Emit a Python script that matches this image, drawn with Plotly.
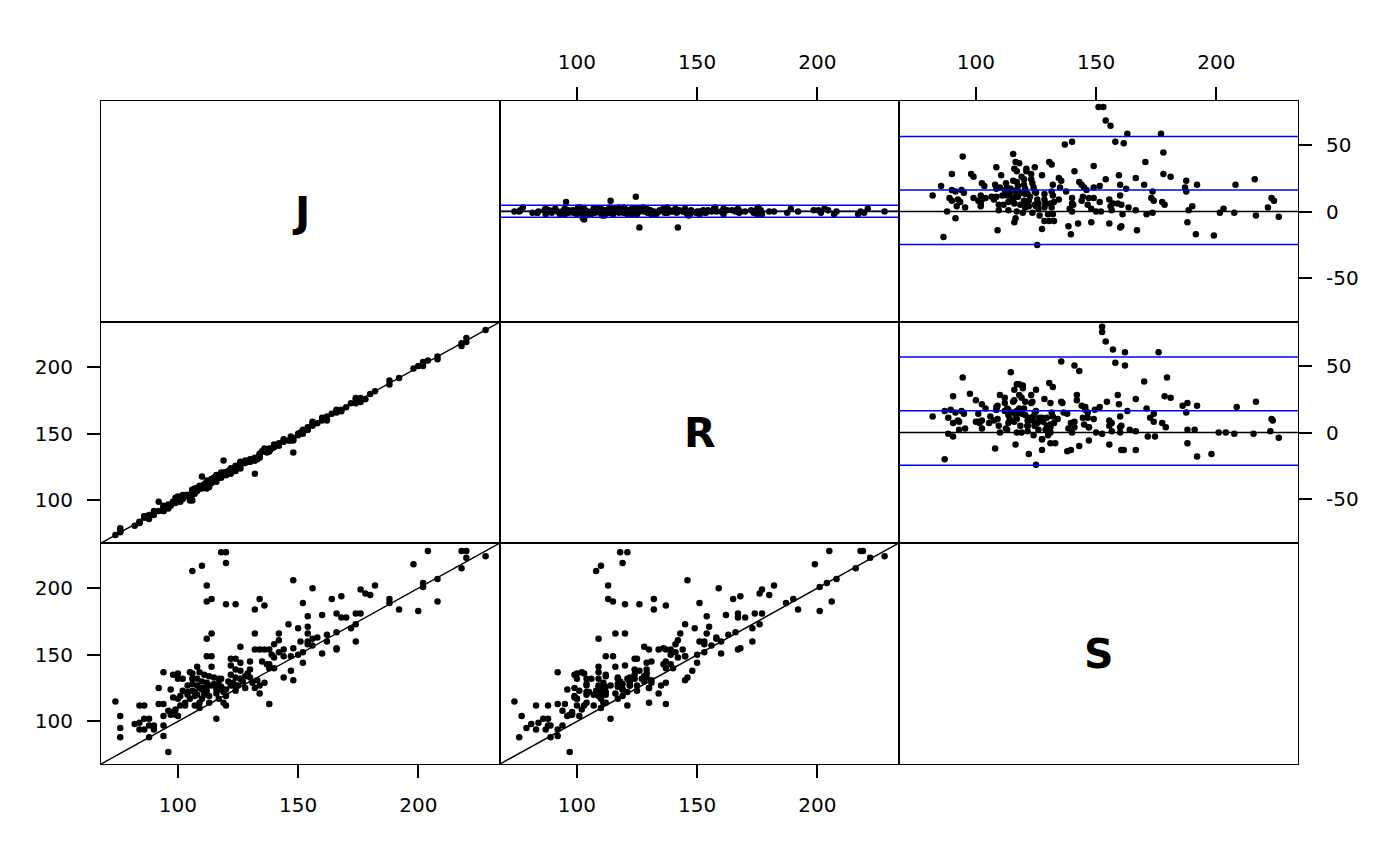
import numpy as np
import plotly.graph_objects as go
from plotly.subplots import make_subplots

# blood pressure by three methods, one entry per measurement
J = [118, 120, 120, 106, 110, 148, 112, 112, 114, 120, 124, 134, 136, 132, 146, 114, 112, 132, 142, 142,
     150, 126, 112, 114, 132, 134, 136, 138, 140, 139, 142, 140, 144, 148, 144, 147, 150, 135, 137, 138,
     140, 138, 122, 124, 122, 124, 126, 130, 130, 126, 122, 124, 126, 128, 130, 114, 108, 105, 106, 109,
     111, 113, 115, 117, 94, 98, 100, 100, 97, 102, 104, 106, 108, 110, 112, 114, 92, 98, 101, 104,
     106, 108, 110, 111, 112, 116, 117, 119, 120, 123, 125, 128, 132, 134, 134, 138, 144, 148, 147, 74,
     84, 86, 92, 94, 96, 98, 99, 101, 103, 105, 107, 109, 76, 82, 84, 86, 88, 86, 88, 90,
     94, 97, 99, 100, 116, 76, 76, 84, 88, 90, 94, 94, 96, 100, 102, 107, 110, 113, 109, 106,
     117, 120, 122, 124, 126, 131, 118, 120, 204, 218, 220, 220, 228, 218, 198, 208, 202, 202, 182, 176,
     178, 180, 156, 152, 164, 168, 188, 188, 192, 200, 208, 154, 160, 166, 168, 170, 174, 176, 154, 154,
     154, 156, 158, 162, 162, 166, 172, 174, 154, 156, 152, 152, 160, 166, 166, 174, 151,
     108, 110, 112, 115, 118, 121, 104, 107, 111, 116, 119, 123, 127, 129, 133, 136, 103, 109, 113, 117]

S = [227, 227, 219, 213, 217, 206, 202, 190, 192, 188, 188, 192, 187, 184, 173, 166, 162, 166, 166, 161,
     170, 156, 149, 149, 154, 154, 154, 154, 158, 150, 152, 148, 154, 155, 149, 149, 150, 145, 143, 143,
     140, 140, 147, 147, 142, 139, 144, 145, 139, 138, 135, 133, 132, 134, 133, 141, 141, 137, 136, 137,
     135, 134, 133, 132, 137, 135, 136, 132, 124, 132, 127, 128, 132, 130, 129, 127, 125, 118, 119, 122,
     123, 120, 124, 122, 123, 124, 117, 114, 112, 127, 127, 125, 125, 127, 121, 113, 133, 131, 138, 115,
     112, 112, 113, 113, 108, 107, 109, 112, 114, 117, 112, 114, 104, 98, 99, 102, 102, 94, 97, 97,
     104, 105, 105, 104, 102, 95, 88, 94, 88, 94, 97, 89, 77, 117, 123, 119, 117, 119, 125, 132,
     124, 119, 127, 123, 132, 129, 132, 124, 228, 228, 228, 223, 224, 215, 218, 207, 204, 201, 202, 199,
     196, 195, 200, 189, 192, 194, 192, 189, 184, 183, 190, 179, 180, 181, 178, 178, 181, 181, 171, 166,
     160, 162, 163, 165, 160, 167, 170, 173, 158, 157, 152, 144, 151, 155, 154, 160, 160,
     127, 125, 126, 128, 126, 130, 120, 122, 120, 121, 122, 129, 130, 136, 131, 129, 112, 110, 114, 128]

# R minus J
diff_RJ = [0, 1, -1, 2, 0, -2, 1, 3, -1, 0, 2, -2, 1, 0, -1, 2, -3, -12, 1, 0,
           -1, 2, 0, 1, -2, 0, 3, -1, 1, 0, -1, 2, 0, -12, 1, -2, 0, 2, -1, 1,
           0, -1, 2, 1, -2, 0, 3, 1, -1, 0, 2, -2, 1, 0, -1, 2, 1, -3, -6, 0,
           1, -1, 2, 0, -2, 1, 3, 0, -1, 2, 0, -2, 1, 8, -1, 0, 7, 1, -2, 0,
           2, -1, 0, 1, -2, 3, 0, 11, 1, -1, 0, 2, -2, 1, 0, -1, 2, -3, 1, 0,
           -1, 2, 0, 1, -2, 0, 3, -1, 1, -5, 0, 2, 1, -1, 0, 2, -2, 1, 0, -1,
           2, 0, -1, 1, -2, 3, 0, -1, 1, 2, 0, -2, 1, 0, -1, 2, 0, -3, 1, 0,
           2, -1, 0, 1, -2, 0, 3, -1, 1, 0, -1, 2, 0, -2, 1, 0, 2, -1, 0, 1,
           -2, 0, 3, -1, 1, 0, 2, -1, 0, 1, -2, 0, 2, 1, -1, 0, 3, -2, 1, 0,
           -1, 2, 0, 1, -2, 0, 1, 2, -1, 0, 1, -2, 0, 2, 1, -1, 0,
           1, -1, 0, 2, -1, 1, 0, -2, 1, 0, 2, -1, 1, 0, -2, 1, 0, 1, -1, 2]

# limits of agreement: lower, mean, upper
loa_JR = [-4.3, 0.2, 4.6]
loa_JS = [-24.6, 16.1, 56.0]
loa_RS = [-24.4, 16.2, 56.4]

methods = ["J", "R", "S"]
val_range = [68, 234]
dif_range = [-82.5, 82.5]
ticks_val = [100, 150, 200]
ticks_dif = [-50, 0, 50]
ticks_dif_text = ["-50", "0", "50"]

J = np.array(J, dtype=float)
S = np.array(S, dtype=float)
R = J + np.array(diff_RJ, dtype=float)
data = {"J": J, "R": R, "S": S}
loas = {("J", "R"): loa_JR, ("J", "S"): loa_JS, ("R", "S"): loa_RS}

fig = make_subplots(rows=3, cols=3, horizontal_spacing=0, vertical_spacing=0)

font = dict(family="DejaVu Sans", size=20, color="black")
dot = dict(color="black", size=6.5)

for i, a in enumerate(methods):
    for j, b in enumerate(methods):
        row, col = i + 1, j + 1
        n = i * 3 + j + 1
        xr = "x" if n == 1 else "x%d" % n
        yr = "y" if n == 1 else "y%d" % n
        if i == j:
            # empty trace so the panel box is drawn
            fig.add_trace(go.Scatter(x=[None], y=[None], mode="markers", showlegend=False),
                          row=row, col=col)
            fig.add_annotation(text="<b>%s</b>" % a, x=0.5, y=0.5, xref=xr + " domain",
                               yref=yr + " domain", showarrow=False,
                               font=dict(family="DejaVu Sans", size=41, color="black"))
            fig.update_xaxes(range=val_range, row=row, col=col)
            fig.update_yaxes(range=val_range, row=row, col=col)
        elif i > j:
            # lower: method b (column) on x, method a (row) on y
            fig.add_trace(go.Scatter(x=data[b], y=data[a], mode="markers", marker=dot,
                                     showlegend=False), row=row, col=col)
            fig.add_shape(type="line", x0=val_range[0], y0=val_range[0], x1=val_range[1],
                          y1=val_range[1], xref=xr, yref=yr,
                          line=dict(color="black", width=1.5))
            fig.update_xaxes(range=val_range, row=row, col=col)
            fig.update_yaxes(range=val_range, row=row, col=col)
        else:
            # upper: difference b - a against average
            avg = (data[a] + data[b]) / 2
            dif = data[b] - data[a]
            for v in loas[(a, b)]:
                fig.add_shape(type="line", x0=0, x1=1, y0=v, y1=v, xref=xr + " domain",
                              yref=yr, line=dict(color="#0000FF", width=1.5))
            fig.add_shape(type="line", x0=0, x1=1, y0=0, y1=0, xref=xr + " domain",
                          yref=yr, line=dict(color="black", width=1.5))
            fig.add_trace(go.Scatter(x=avg, y=dif, mode="markers", marker=dot,
                                     showlegend=False), row=row, col=col)
            fig.update_xaxes(range=val_range, row=row, col=col)
            fig.update_yaxes(range=dif_range, row=row, col=col)

fig.update_xaxes(showline=True, mirror=True, linecolor="black", linewidth=1.2,
                 showgrid=False, zeroline=False, showticklabels=False, ticks="")
fig.update_yaxes(showline=True, mirror=True, linecolor="black", linewidth=1.2,
                 showgrid=False, zeroline=False, showticklabels=False, ticks="")

tick_style = dict(showticklabels=True, ticks="outside", ticklen=13, tickwidth=1.5,
                  tickcolor="black", tickfont=font, ticklabelstandoff=10)

# bottom axes of columns 1 and 2
for c in (1, 2):
    fig.update_xaxes(tickvals=ticks_val, row=3, col=c, **tick_style)
# top axes of columns 2 and 3
for c in (2, 3):
    fig.update_xaxes(tickvals=ticks_val, side="top", row=1, col=c, **tick_style)
# left axes of rows 2 and 3
for r in (2, 3):
    fig.update_yaxes(tickvals=ticks_val, row=r, col=1, **tick_style)
# right axes of rows 1 and 2 (differences)
for r in (1, 2):
    fig.update_yaxes(tickvals=ticks_dif, ticktext=ticks_dif_text, side="right",
                     row=r, col=3, **tick_style)

fig.update_layout(width=1400, height=866, plot_bgcolor="white", paper_bgcolor="white",
                  margin=dict(l=93, r=110, t=93, b=110), font=font)

fig.write_html("out.html")
